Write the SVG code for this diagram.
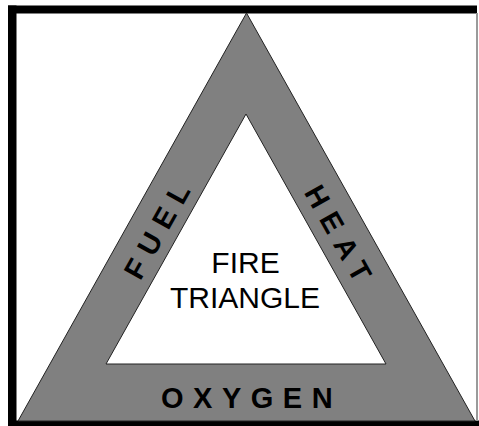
<svg xmlns="http://www.w3.org/2000/svg" width="479" height="426" viewBox="0 0 479 426">
  <style>
    .side { font-family: "Liberation Sans", Arial, sans-serif; font-weight: bold; font-size: 29px; letter-spacing: 9.5px; fill: #000; }
    .center { font-family: "Liberation Sans", Arial, sans-serif; font-size: 30px; fill: #000; text-anchor: middle; }
    .tri { stroke: #222; stroke-width: 1; stroke-linejoin: miter; }
  </style>
  <rect x="0" y="0" width="479" height="426" fill="#ffffff"/>
  <g id="frame">
    <rect x="8" y="5.5" width="469" height="8" fill="#000"/>
    <rect x="8" y="5.5" width="8.5" height="420.5" fill="#000"/>
    <rect x="8" y="420.5" width="471" height="5.5" fill="#000"/>
    <rect x="476" y="13" width="2" height="408" fill="#9a9a9a"/>
  </g>
  <g id="triangle">
    <polygon class="tri" points="246.5,13 18,421 475,421" fill="#808080"/>
    <polygon class="tri" points="246,114 106,364 386,364" fill="#ffffff"/>
  </g>
  <g id="fuel">
    <text class="side" text-anchor="middle" transform="translate(156.5,231) rotate(-60.7)" x="4.75" y="10.5">FUEL</text>
  </g>
  <g id="heat">
    <text class="side" text-anchor="middle" transform="translate(338.5,233) rotate(60.7)" x="4.75" y="10.5">HEAT</text>
  </g>
  <g id="oxygen">
    <text class="side" x="161" y="408">OXYGEN</text>
  </g>
  <g id="fire-triangle">
    <text class="center" x="245.5" y="273">FIRE</text>
    <text class="center" x="245" y="307.5">TRIANGLE</text>
  </g>
</svg>
